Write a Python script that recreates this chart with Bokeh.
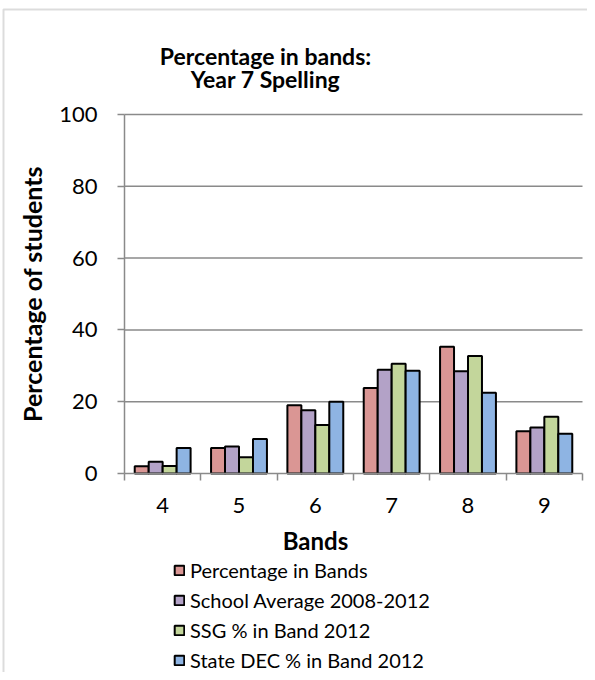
import numpy as np
from bokeh.plotting import figure
from bokeh.models import (Range1d, FixedTicker, Legend, LegendItem, Label, BoxAnnotation)
from bokeh.embed import file_html
from bokeh.resources import INLINE

# ---- data ----
bands = ["4", "5", "6", "7", "8", "9"]
series_names = ["Percentage in Bands", "School Average 2008-2012",
                "SSG % in Band 2012", "State DEC % in Band 2012"]
pct_in_bands = [2.0, 7.1, 19.0, 23.8, 35.3, 11.8]
school_avg = [3.3, 7.5, 17.6, 28.9, 28.5, 12.8]
ssg_2012 = [2.1, 4.5, 13.5, 30.6, 32.7, 15.8]
state_dec_2012 = [7.1, 9.6, 20.0, 28.6, 22.5, 11.1]
y_ticks = [0, 20, 40, 60, 80, 100]

series = [pct_in_bands, school_avg, ssg_2012, state_dec_2012]
colors = ["#DA9694", "#B3A2C7", "#C3D69B", "#8EB4E3"]

# ---- layout (pixels) ----
W, H = 587, 672
PL, PR, PT, PB = 124, 582, 114, 473     # plot area edges on the canvas
Y_MAX = 100
n = len(bands)
ppx = (PR - PL) / n
ppy = (PB - PT) / Y_MAX

FONT = "Lato"
GRAY = "#8a8a8a"

p = figure(width=W, height=H, output_backend="svg", toolbar_location=None,
           x_range=Range1d(-PL / ppx, n + (W - PR) / ppx),
           y_range=Range1d(-(H - PB) / ppy, Y_MAX + PT / ppy),
           min_border=0, min_border_left=0, min_border_right=0,
           min_border_top=0, min_border_bottom=0)
p.outline_line_color = None
p.background_fill_color = "white"
p.border_fill_color = "white"
p.xgrid.visible = False
p.ygrid.visible = False

# outer chart border
p.add_layout(BoxAnnotation(left=3, right=W + 50, top=H - 9, bottom=-50,
                           left_units="screen", right_units="screen",
                           top_units="screen", bottom_units="screen",
                           fill_alpha=0, line_color=GRAY, line_width=2,
                           level="underlay"))

# horizontal grid lines
grid_y = [t for t in y_ticks if t > 0]
p.segment(x0=[0] * len(grid_y), x1=[n] * len(grid_y), y0=grid_y, y1=grid_y,
          line_color=GRAY, line_width=1.5)

centers = np.arange(n) + 0.5
bw = 0.183
offsets = (np.arange(len(series)) - (len(series) - 1) / 2) * bw
renderers = []
for vals, off, col in zip(series, offsets, colors):
    r = p.vbar(x=centers + off, top=vals, width=bw, bottom=0,
               fill_color=col, line_color="black", line_width=2)
    renderers.append(r)

# x axis
xa = p.xaxis[0]
xa.fixed_location = 0
xa.bounds = (0, n)
xa.ticker = FixedTicker(ticks=list(centers), minor_ticks=list(np.arange(n + 1)))
xa.major_label_overrides = {float(c): b for c, b in zip(centers, bands)}
xa.major_tick_line_color = None
xa.major_tick_out = 0
xa.major_tick_in = 0
xa.minor_tick_line_color = GRAY
xa.minor_tick_line_width = 1.5
xa.minor_tick_out = 7
xa.minor_tick_in = 0
xa.axis_line_color = GRAY
xa.axis_line_width = 1.5
xa.major_label_text_font = FONT
xa.major_label_text_font_size = "22px"
xa.major_label_text_color = "black"
xa.major_label_standoff = 17

# y axis
ya = p.yaxis[0]
ya.fixed_location = 0
ya.bounds = (0, Y_MAX)
ya.ticker = FixedTicker(ticks=y_ticks)
ya.minor_tick_line_color = None
ya.major_tick_line_color = GRAY
ya.major_tick_line_width = 1.5
ya.major_tick_out = 7
ya.major_tick_in = 0
ya.axis_line_color = GRAY
ya.axis_line_width = 1.5
ya.major_label_text_font = FONT
ya.major_label_text_font_size = "22px"
ya.major_label_text_color = "black"
ya.major_label_standoff = 20
ya.axis_label = "Percentage of students"
ya.axis_label_text_font = FONT
ya.axis_label_text_font_style = "bold"
ya.axis_label_text_font_size = "25px"
ya.axis_label_text_color = "black"
ya.axis_label_standoff = 9

# titles (screen units, y measured from canvas bottom)
for txt, yy in [("Percentage in bands:", H - 55), ("Year 7 Spelling", H - 78)]:
    p.add_layout(Label(x=265, y=yy, x_units="screen", y_units="screen", text=txt,
                       text_font=FONT, text_font_style="bold", text_font_size="23px",
                       text_align="center", text_baseline="middle", text_color="black"))
p.add_layout(Label(x=315, y=H - 540, x_units="screen", y_units="screen", text="Bands",
                   text_font=FONT, text_font_style="bold", text_font_size="24px",
                   text_align="center", text_baseline="middle", text_color="black"))

legend = Legend(items=[LegendItem(label=s, renderers=[r]) for s, r in zip(series_names, renderers)],
                location=(173, 0), orientation="vertical",
                label_text_font=FONT, label_text_font_size="20px",
                label_text_color="black",
                glyph_width=12, glyph_height=12, label_standoff=5,
                spacing=6, padding=0, margin=0, border_line_color=None,
                background_fill_alpha=0)
p.add_layout(legend, "center")

open("out.html", "w").write(file_html(p, INLINE))
